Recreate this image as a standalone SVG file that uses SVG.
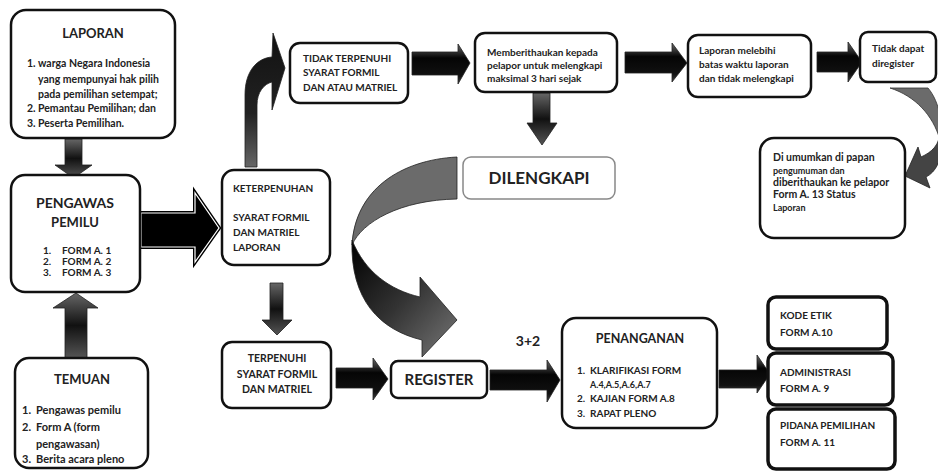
<svg xmlns="http://www.w3.org/2000/svg" width="938" height="471" viewBox="0 0 938 471">
<defs>
<linearGradient id="gH" x1="0" y1="0" x2="0" y2="1">
<stop offset="0" stop-color="#6a6a6a"/><stop offset="0.35" stop-color="#050505"/><stop offset="0.8" stop-color="#111"/><stop offset="1" stop-color="#444"/>
</linearGradient>
<linearGradient id="gV" x1="0" y1="0" x2="0" y2="1">
<stop offset="0" stop-color="#666"/><stop offset="0.5" stop-color="#111"/><stop offset="1" stop-color="#555"/>
</linearGradient>
<linearGradient id="gUp" x1="0" y1="0" x2="0" y2="1">
<stop offset="0" stop-color="#111"/><stop offset="0.6" stop-color="#222"/><stop offset="1" stop-color="#666"/>
</linearGradient>
<linearGradient id="gCurve" x1="0" y1="0" x2="1" y2="1">
<stop offset="0" stop-color="#000"/><stop offset="0.5" stop-color="#333"/><stop offset="1" stop-color="#777"/>
</linearGradient>
<style>
.box{fill:#fff;stroke:#111;stroke-width:2.5}
.box2{fill:#fff;stroke:#111;stroke-width:3.5}
.thin{fill:#fff;stroke:#888;stroke-width:1.5}
text{font-family:Lato,"Liberation Sans",sans-serif;font-weight:bold;fill:#222;font-size:10px}
.s9{font-size:9px}
.s105{font-size:10.5px}
.s11{font-size:11px}
.s125{font-size:12.5px}
.t13{font-size:13px}
.t14{font-size:14px}
.s15{font-size:15px}
.s17{font-size:17px}
.mid{text-anchor:middle}
.ah{fill:url(#gH);stroke:#222;stroke-width:0.8}
.av{fill:url(#gV);stroke:#222;stroke-width:0.8}
</style>
</defs>

<g id="connectors">
<polygon class="av" points="65,139 82,139 82,165 92,165 73.5,178 55,165 65,165"/>
<polygon class="av" points="65,358 87,358 87,308 98,308 76,293 53,308 65,308"/>
<polygon points="141,213 195,213 195,193 219,228 195,262 195,247 141,247" fill="#000" stroke="#000" stroke-width="4"/>
<polygon points="141,213 195,213 195,193 219,228 195,262 195,247 141,247" fill="#000" stroke="#fff" stroke-width="1.2"/>
<path d="M245,167 L245,95 C245,70 258,58 272,57 L273,33 L285,68 L272,110 L272,82 C264,84 257,92 257,105 L257,167 Z" fill="url(#gUp)" stroke="#222" stroke-width="0.8"/>
<polygon class="av" points="270,283 283,283 283,320 292,320 277,335 262,320 270,320"/>
<polygon class="ah" points="412,52 458,52 458,44 470,63 458,84 458,75 412,75"/>
<polygon class="ah" points="625,52 672,52 672,43 687,63 672,82 672,73 625,73"/>
<polygon class="ah" points="817,52 848,52 848,42 862,62 848,82 848,72 817,72"/>
<polygon class="av" points="533,93 550,93 550,123 557,123 542,145 527,123 533,123"/>
<path d="M457,157 C400,160 355,190 352,245 C362,222 400,200 457,199 Z" fill="#6b6b6b" stroke="#222" stroke-width="0.8"/>
<path d="M352,240 C350,300 380,330 422,340 L422,357 L457,320 L420,277 L420,297 C390,290 365,272 352,240 Z" fill="url(#gCurve)" stroke="#222" stroke-width="0.8"/>
<path d="M890,88 L928,88 C934,95 938,105 940,115 L940,140 C933,115 915,96 890,88 Z" fill="#6b6b6b" stroke="#333" stroke-width="0.8"/>
<path d="M940,130 C940,145 932,152 921,157 L918,147 L905,176 L930,188 L926,177 C936,172 941,160 941,150 Z" fill="#444" stroke="#222" stroke-width="0.8"/>
<polygon class="ah" points="336,368 373,368 373,358 388,379 373,400 373,388 336,388"/>
<polygon class="ah" points="490,370 547,370 547,360 560,380 547,402 547,390 490,390"/>
<polygon class="ah" points="719,370 757,370 757,355 770,374 757,393 757,388 719,388"/>
</g>

<g id="laporan">
<rect class="box" x="11" y="10" width="164" height="128" rx="15"/>
<text class="t13 mid" x="93" y="38">LAPORAN</text>
<text class="s105" x="27" y="67">1.</text><text class="s105" x="38" y="67">warga Negara Indonesia</text>
<text class="s105" x="38" y="83">yang mempunyai hak pilih</text>
<text class="s105" x="38" y="98">pada pemilihan setempat;</text>
<text class="s105" x="27" y="112">2.</text><text class="s105" x="38" y="112">Pemantau Pemilihan; dan</text>
<text class="s105" x="27" y="127">3.</text><text class="s105" x="38" y="127">Peserta Pemilihan.</text>
</g>

<g id="pengawas">
<rect class="box" x="11" y="175" width="129" height="117" rx="14"/>
<text class="t14 mid" x="75" y="208">PENGAWAS</text>
<text class="t13 mid" x="75" y="227">PEMILU</text>
<text x="43" y="254">1.</text><text x="62" y="254">FORM A. 1</text>
<text x="43" y="265">2.</text><text x="62" y="265">FORM A. 2</text>
<text x="43" y="276">3.</text><text x="62" y="276">FORM A. 3</text>
</g>

<g id="temuan">
<rect class="box" x="15" y="358" width="133" height="110" rx="14"/>
<text class="t13 mid" x="82" y="384">TEMUAN</text>
<text class="s11" x="22" y="414">1.</text><text class="s11" x="36" y="414">Pengawas pemilu</text>
<text class="s11" x="22" y="431">2.</text><text class="s11" x="36" y="431">Form A (form</text>
<text class="s11" x="36" y="448">pengawasan)</text>
<text class="s11" x="22" y="463">3.</text><text class="s11" x="36" y="463">Berita acara pleno</text>
</g>

<g id="keterpenuhan">
<rect class="box" x="222" y="170" width="108" height="95" rx="12"/>
<text x="233" y="192">KETERPENUHAN</text>
<text x="233" y="221">SYARAT FORMIL</text>
<text x="233" y="236">DAN MATRIEL</text>
<text x="233" y="251">LAPORAN</text>
</g>

<g id="tidak-terpenuhi">
<rect class="box" x="290" y="43" width="118" height="60" rx="10"/>
<text x="303" y="62">TIDAK TERPENUHI</text>
<text x="303" y="76">SYARAT FORMIL</text>
<text x="303" y="91">DAN ATAU MATRIEL</text>
</g>

<g id="memberithaukan">
<rect class="box" x="475" y="33" width="142" height="59" rx="10"/>
<text x="487" y="56">Memberithaukan kepada</text>
<text x="487" y="69">pelapor untuk melengkapi</text>
<text x="487" y="82">maksimal 3 hari sejak</text>
</g>

<g id="laporan-melebihi">
<rect class="box" x="688" y="35" width="123" height="62" rx="10"/>
<text x="699" y="54">Laporan melebihi</text>
<text x="699" y="68">batas waktu laporan</text>
<text x="699" y="82">dan tidak melengkapi</text>
</g>

<g id="tidak-dapat">
<rect class="box" x="860" y="32" width="76" height="50" rx="8"/>
<text x="872" y="52">Tidak dapat</text>
<text x="872" y="67">diregister</text>
</g>

<g id="diumumkan">
<rect class="box" x="760" y="138" width="145" height="100" rx="14"/>
<text class="s105" x="773" y="161">Di umumkan di papan</text>
<text class="s9" x="773" y="174">pengumuman dan</text>
<text class="s105" x="773" y="186">diberithaukan ke pelapor</text>
<text class="s105" x="773" y="198">Form A. 13 Status</text>
<text class="s9" x="773" y="211">Laporan</text>
</g>

<g id="dilengkapi">
<rect class="thin" x="463" y="157" width="152" height="42" rx="8"/>
<text class="s17 mid" x="539" y="184">DILENGKAPI</text>
</g>

<g id="terpenuhi">
<rect class="box" x="222" y="342" width="109" height="66" rx="10"/>
<text class="s105 mid" x="277" y="362">TERPENUHI</text>
<text class="s105 mid" x="277" y="378">SYARAT FORMIL</text>
<text class="s105 mid" x="277" y="393">DAN MATRIEL</text>
</g>

<g id="register">
<rect class="box" x="391" y="361" width="96" height="37" rx="7"/>
<text class="s15 mid" x="439" y="385">REGISTER</text>
</g>

<g id="label-3-2">
<text class="t14 mid" x="528" y="346">3+2</text>
</g>

<g id="penanganan">
<rect class="box" x="562" y="318" width="155" height="110" rx="14"/>
<text class="s125 mid" x="640" y="343">PENANGANAN</text>
<text x="577" y="374">1.</text><text x="590" y="374">KLARIFIKASI FORM</text>
<text class="s9" x="590" y="388">A.4,A.5,A.6,A.7</text>
<text x="577" y="402">2.</text><text x="590" y="402">KAJIAN FORM A.8</text>
<text x="577" y="417">3.</text><text x="590" y="417">RAPAT PLENO</text>
</g>

<g id="kode-etik">
<rect class="box2" x="768" y="297" width="119" height="52" rx="8"/>
<text x="780" y="319">KODE ETIK</text>
<text x="780" y="336">FORM A.10</text>
</g>

<g id="administrasi">
<rect class="box2" x="768" y="353" width="125" height="52" rx="8"/>
<text x="780" y="376">ADMINISTRASI</text>
<text x="780" y="392">FORM A. 9</text>
</g>

<g id="pidana">
<rect class="box2" x="768" y="409" width="127" height="60" rx="8"/>
<text x="780" y="429">PIDANA PEMILIHAN</text>
<text x="780" y="446">FORM A. 11</text>
</g>
</svg>
